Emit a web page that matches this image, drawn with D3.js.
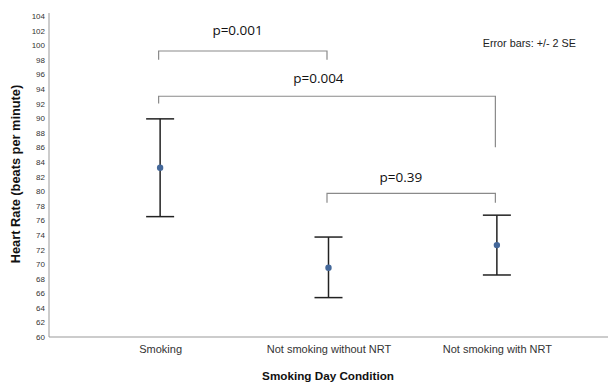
<!DOCTYPE html>
<html>
<head>
<meta charset="utf-8">
<script src="https://cdn.jsdelivr.net/npm/d3@7"></script>
<style>
  body { margin: 0; background: #fff; }
  svg { display: block; }
</style>
</head>
<body>
<script>
// categories and values (heart rate, beats per minute)
const categories = ['Smoking', 'Not smoking without NRT', 'Not smoking with NRT']
const means = [83.2, 69.5, 72.6]
const lowerBars = [76.5, 65.4, 68.5]
const upperBars = [89.9, 73.7, 76.7]
const yTicks = [60, 62, 64, 66, 68, 70, 72, 74, 76, 78, 80, 82, 84, 86, 88, 90, 92, 94, 96, 98, 100, 102, 104]

// significance brackets
const bracketFrom = [0, 0, 1]
const bracketTo = [1, 2, 2]
const bracketTop = [99.2, 93.0, 79.7]
const bracketLeftEnd = [98.0, 92.0, 78.4]
const bracketRightEnd = [98.0, 86.0, 78.4]
const bracketLabels = ['p=0.001', 'p=0.004', 'p=0.39']
const labelPos = [0.46, 0.94, 1.43]
const labelValue = [101.4, 94.8, 81.3]

const w = 608
const h = 383
const padLeft = 49
const padTop = 16
const axisY = 337

const svg = d3.select('body')
    .append('svg')
    .attr('width', w)
    .attr('height', h)

const y = d3.scaleLinear().domain([60, 104]).range([axisY, padTop])
const x = d3.scalePoint().domain(categories).range([padLeft, w]).padding(0.66)
const step = x.step()
const xi = i => x(categories[0]) + i * step

// y axis
const yAxis = d3.axisLeft(y).tickValues(yTicks).tickSize(0).tickPadding(4)
const gy = svg.append('g')
    .attr('transform', `translate(${padLeft},0)`)
    .call(yAxis)
gy.select('.domain').attr('stroke', '#999').attr('d', `M0,${padTop - 3}V${axisY}`)
gy.selectAll('text')
    .style('font-family', '"Liberation Sans", Arial, sans-serif')
    .style('font-size', '8px')
    .attr('fill', '#333')

// x axis
const xAxis = d3.axisBottom(x).tickSize(0).tickPadding(8)
const gx = svg.append('g')
    .attr('transform', `translate(0,${axisY})`)
    .call(xAxis)
gx.select('.domain').attr('stroke', '#999').attr('d', `M${padLeft},0H${w}`)
gx.selectAll('text')
    .style('font-family', '"Liberation Sans", Arial, sans-serif')
    .style('font-size', '11px')
    .attr('fill', '#333')

// axis titles
svg.append('text')
    .attr('transform', `translate(20,174) rotate(-90)`)
    .attr('text-anchor', 'middle')
    .style('font-family', '"Liberation Sans", Arial, sans-serif')
    .style('font-size', '12.8px')
    .style('font-weight', 'bold')
    .attr('fill', '#111')
    .text('Heart Rate (beats per minute)')

svg.append('text')
    .attr('x', 328)
    .attr('y', 380)
    .attr('text-anchor', 'middle')
    .style('font-family', '"Liberation Sans", Arial, sans-serif')
    .style('font-size', '11.7px')
    .style('font-weight', 'bold')
    .attr('fill', '#111')
    .text('Smoking Day Condition')

svg.append('text')
    .attr('x', 576)
    .attr('y', 47)
    .attr('text-anchor', 'end')
    .style('font-family', '"Liberation Sans", Arial, sans-serif')
    .style('font-size', '10.8px')
    .attr('fill', '#222')
    .text('Error bars: +/- 2 SE')

// brackets
const br = svg.append('g')
bracketFrom.forEach((f, i) => {
    const x1 = xi(f) - 1.5
    const x2 = xi(bracketTo[i]) - 1.5
    br.append('path')
        .attr('d', `M${x1},${y(bracketLeftEnd[i])}V${y(bracketTop[i])}H${x2}V${y(bracketRightEnd[i])}`)
        .attr('fill', 'none')
        .attr('stroke', '#8a8a8a')
        .attr('stroke-width', 1.2)
    br.append('text')
        .attr('x', xi(labelPos[i]))
        .attr('y', y(labelValue[i]))
        .attr('text-anchor', 'middle')
        .style('font-family', '"Open Sans", sans-serif')
        .style('font-size', '13.5px')
        .attr('fill', '#111')
        .text(bracketLabels[i])
})

// error bars
const capW = 14
const eb = svg.append('g')
    .selectAll('g')
    .data(categories)
    .enter()
    .append('g')

eb.append('line')
    .attr('x1', d => x(d)).attr('x2', d => x(d))
    .attr('y1', (d, i) => y(upperBars[i]))
    .attr('y2', (d, i) => y(lowerBars[i]))
    .attr('stroke', '#222').attr('stroke-width', 1.5)
eb.append('line')
    .attr('x1', d => x(d) - capW).attr('x2', d => x(d) + capW)
    .attr('y1', (d, i) => y(upperBars[i])).attr('y2', (d, i) => y(upperBars[i]))
    .attr('stroke', '#222').attr('stroke-width', 1.5)
eb.append('line')
    .attr('x1', d => x(d) - capW).attr('x2', d => x(d) + capW)
    .attr('y1', (d, i) => y(lowerBars[i])).attr('y2', (d, i) => y(lowerBars[i]))
    .attr('stroke', '#222').attr('stroke-width', 1.5)
eb.append('circle')
    .attr('cx', d => x(d))
    .attr('cy', (d, i) => y(means[i]))
    .attr('r', 3.2)
    .attr('fill', '#44689a')
</script>
</body>
</html>
